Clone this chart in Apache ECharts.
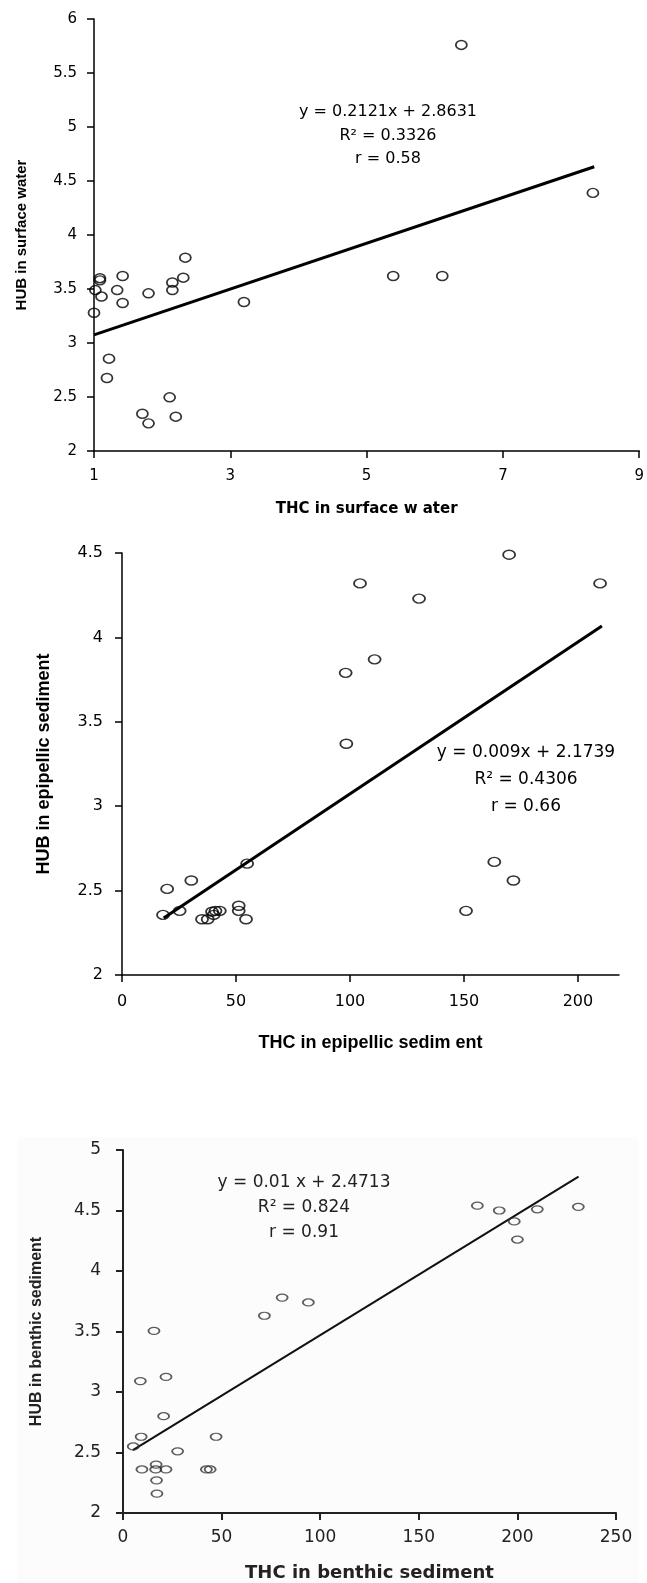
<!DOCTYPE html>
<html>
<head>
<meta charset="utf-8">
<script src="https://cdn.jsdelivr.net/npm/echarts@6/dist/echarts.min.js"></script>
<style>
html,body{margin:0;padding:0;background:#fff;}
#c{width:647px;height:1583px;}
</style>
</head>
<body>
<div id="c"></div>
<script>
// ---- Chart 1: surface water ----
const swTHC = [1.087,1.087,1.02,1.0,1.11,1.34,1.42,1.42,1.80,2.15,2.15,2.31,2.34,3.20,5.39,6.11,1.22,1.19,2.11,1.71,1.80,2.20,6.39,8.32];
const swHUB = [3.60,3.58,3.49,3.28,3.43,3.49,3.62,3.37,3.46,3.56,3.49,3.605,3.79,3.38,3.62,3.62,2.855,2.676,2.497,2.345,2.256,2.318,5.76,4.39];
const swTrendX = [1, 8.34];
const swTrendY = [3.075, 4.632];
const swXTicks = [1,3,5,7,9];
const swYTicks = [2,2.5,3,3.5,4,4.5,5,5.5,6];
const swEq = ['y = 0.2121x + 2.8631','R\u00b2 = 0.3326','r = 0.58'];

// ---- Chart 2: epipellic sediment ----
const epTHC = [104.4,130.3,169.8,209.7,110.8,98.1,98.4,19.8,30.4,54.9,18.0,25.3,35.1,37.6,39.5,41.0,42.9,40.2,51.2,51.2,54.4,150.9,163.3,171.7];
const epHUB = [4.32,4.23,4.49,4.32,3.87,3.79,3.37,2.51,2.56,2.66,2.356,2.38,2.33,2.33,2.375,2.38,2.38,2.356,2.41,2.38,2.33,2.38,2.67,2.56];
const epTrendX = [18.3, 210.5];
const epTrendY = [2.338, 4.068];
const epXTicks = [0,50,100,150,200];
const epYTicks = [2,2.5,3,3.5,4,4.5];
const epEq = ['y = 0.009x + 2.1739','R\u00b2 = 0.4306','r = 0.66'];

// ---- Chart 3: benthic sediment ----
const bsTHC = [15.7,8.8,21.8,20.6,9.2,5.2,27.7,47.2,9.6,16.8,16.6,21.8,42.3,44.2,17.0,17.2,71.7,80.7,94.0,179.7,190.8,210.1,230.9,198.4,200.0];
const bsHUB = [3.505,3.09,3.125,2.80,2.63,2.55,2.51,2.63,2.36,2.40,2.36,2.36,2.36,2.36,2.27,2.16,3.63,3.78,3.74,4.54,4.50,4.51,4.53,4.41,4.26];
const bsTrendX = [5, 231];
const bsTrendY = [2.52, 4.78];
const bsXTicks = [0,50,100,150,200,250];
const bsYTicks = [2,2.5,3,3.5,4,4.5,5];
const bsEq = ['y = 0.01 x + 2.4713','R\u00b2 = 0.824','r = 0.91'];

const zip = (a,b) => a.map((v,i)=>[v,b[i]]);

const chart = echarts.init(document.getElementById('c'), null, {renderer:'canvas'});

function axis(o){
  return {
    type:'value', gridIndex:o.grid, min:o.min, max:o.max,
    name:o.name, nameLocation:'middle', nameGap:o.nameGap, nameRotate:o.nameRotate,
    nameTextStyle:{fontFamily:o.nameFont||'Liberation Sans', fontWeight:'bold', fontSize:o.nameSize, color:o.color},
    axisLine:{show:true, onZero:false, lineStyle:{color:o.color, width:o.lw}},
    axisTick:{show:true, inside:false, length:7, customValues:o.ticks, lineStyle:{color:o.color, width:o.lw}},
    axisLabel:{show:true, margin:o.margin, customValues:o.ticks, fontFamily:o.font||'DejaVu Sans', fontSize:o.size, color:o.color},
    splitLine:{show:false}
  };
}

const option = {
  animation:false,
  backgroundColor:'#fff',
  grid:[
    {left:94, top:19, width:549, height:432},
    {left:122, top:553, width:497, height:422},
    {left:123, top:1150, width:493, height:363}
  ],
  xAxis:[
    axis({grid:0,min:1,max:9,ticks:swXTicks,name:'THC in surface w ater',nameGap:51,nameSize:15,nameFont:'DejaVu Sans',color:'#000',lw:1.5,margin:18,size:15}),
    axis({grid:1,min:0,max:218,ticks:epXTicks,name:'THC in epipellic sedim ent',nameGap:59,nameSize:18,color:'#000',lw:1.5,margin:19,size:16}),
    axis({grid:2,min:0,max:250,ticks:bsXTicks,name:'THC in benthic sediment',nameGap:51,nameSize:18,color:'#222',lw:2,margin:16,size:17,nameFont:'DejaVu Sans'})
  ],
  yAxis:[
    axis({grid:0,min:2,max:6,ticks:swYTicks,name:'HUB in surface water',nameGap:65,nameRotate:90,nameSize:15,color:'#000',lw:1.5,margin:17,size:15}),
    axis({grid:1,min:2,max:4.5,ticks:epYTicks,name:'HUB in epipellic sediment',nameGap:69,nameRotate:90,nameSize:18,color:'#000',lw:1.5,margin:19,size:16}),
    axis({grid:2,min:2,max:5,ticks:bsYTicks,name:'HUB in benthic sediment',nameGap:78,nameRotate:90,nameSize:16,color:'#222',lw:2,margin:22,size:17})
  ],
  series:[
    {type:'line', xAxisIndex:0, yAxisIndex:0, data:zip(swTrendX,swTrendY), symbol:'none', lineStyle:{color:'#000', width:3}, z:2},
    {type:'scatter', xAxisIndex:0, yAxisIndex:0, data:zip(swTHC,swHUB), symbol:'circle', symbolSize:[11,9],
      itemStyle:{color:'rgba(0,0,0,0)', borderColor:'#000', borderWidth:1.6}, z:3},
    {type:'line', xAxisIndex:1, yAxisIndex:1, data:zip(epTrendX,epTrendY), symbol:'none', lineStyle:{color:'#000', width:3}, z:2},
    {type:'scatter', xAxisIndex:1, yAxisIndex:1, data:zip(epTHC,epHUB), symbol:'circle', symbolSize:[12,9],
      itemStyle:{color:'rgba(0,0,0,0)', borderColor:'#000', borderWidth:1.6}, z:3},
    {type:'line', xAxisIndex:2, yAxisIndex:2, data:zip(bsTrendX,bsTrendY), symbol:'none', lineStyle:{color:'#111', width:2}, z:2},
    {type:'scatter', xAxisIndex:2, yAxisIndex:2, data:zip(bsTHC,bsHUB), symbol:'circle', symbolSize:[11,7],
      itemStyle:{color:'rgba(0,0,0,0)', borderColor:'#333', borderWidth:1.5}, z:3}
  ],
  graphic:[
    {type:'rect', z:-10, silent:true, shape:{x:17,y:1137,width:622,height:446}, style:{fill:'#fcfcfc'}},
    ...swEq.map((t,i)=>({type:'text', x:388, y:112+i*23.5, style:{text:t, font:'16px "DejaVu Sans"', fill:'#000', align:'center', verticalAlign:'middle'}})),
    ...epEq.map((t,i)=>({type:'text', x:526, y:753+i*27, style:{text:t, font:'17px "DejaVu Sans"', fill:'#000', align:'center', verticalAlign:'middle'}})),
    ...bsEq.map((t,i)=>({type:'text', x:304, y:1183+i*25, style:{text:t, font:'17px "DejaVu Sans"', fill:'#222', align:'center', verticalAlign:'middle'}}))
  ]
};
chart.setOption(option);
</script>
</body>
</html>
